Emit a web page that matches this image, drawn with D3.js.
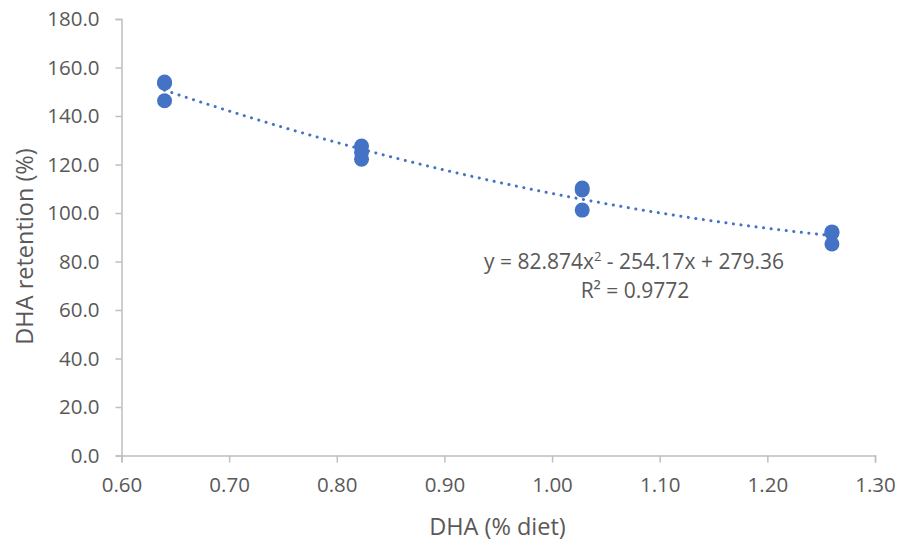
<!DOCTYPE html>
<html><head><meta charset="utf-8">
<script src="https://cdn.jsdelivr.net/npm/d3@7"></script>
<style>body{margin:0;background:#fff}svg{display:block}text{font-family:"Open Sans",sans-serif;fill:#595959}</style>
</head><body><svg id="c" width="900" height="542"></svg>
<script>
const xValues = [0.64,0.64,0.64, 0.823,0.823,0.823, 1.028,1.028,1.028, 1.26,1.26,1.26];
const yValues = [153.5,154.0,146.3, 127.6,125.1,122.2, 110.3,109.5,101.2, 92.2,91.8,87.2];
const xTicks = [0.6,0.7,0.8,0.9,1.0,1.1,1.2,1.3];
const yTicks = [0,20,40,60,80,100,120,140,160,180];
const trendCoef = [82.874,-254.17,279.36];
const rSquared = "0.9772";

const svg = d3.select("#c");
const x = d3.scaleLinear().domain([0.6,1.3]).range([121.5,875]);
const y = d3.scaleLinear().domain([0,180]).range([455.5,19]);

const gx = svg.append("g").attr("transform","translate(0,455.5)")
  .call(d3.axisBottom(x).tickValues(xTicks).tickFormat(d3.format(".2f")).tickSize(7).tickPadding(15));
const gy = svg.append("g").attr("transform","translate(121.5,0)")
  .call(d3.axisLeft(y).tickValues(yTicks).tickFormat(d3.format(".1f")).tickSize(6).tickPadding(16));
[gx,gy].forEach(g=>{
  g.select(".domain").attr("stroke","#bfbfbf").attr("stroke-width",1.5);
  g.selectAll(".tick line").attr("stroke","#bfbfbf").attr("stroke-width",1.5);
  g.selectAll(".tick text").attr("fill","#595959").style("font-size","20.5px").style("font-family","'Open Sans',sans-serif");
});

// trendline
const xs = d3.range(0.64,1.2601,0.005);
const line = d3.line().x(d=>x(d)).y(d=>y(trendCoef[0]*d*d+trendCoef[1]*d+trendCoef[2]));
svg.append("path").datum(xs).attr("d",line).attr("fill","none")
  .attr("stroke","#4472c4").attr("stroke-width",3).attr("stroke-dasharray","0.1 7.5").attr("stroke-linecap","round");

svg.append("g").selectAll("circle").data(xValues).join("circle")
  .attr("cx",(d)=>x(d)).attr("cy",(d,i)=>y(yValues[i])).attr("r",7.5).attr("fill","#4472c4");

// equation
const eq = svg.append("text").attr("x",634).attr("y",269).attr("text-anchor","middle").style("font-size","21px");
eq.append("tspan").text("y = "+trendCoef[0]+"x");
eq.append("tspan").attr("dy",-8).style("font-size","13px").text("2");
eq.append("tspan").attr("dy",8).text(" - "+Math.abs(trendCoef[1])+"x + "+trendCoef[2]);
svg.append("text").attr("x",635).attr("y",298).attr("text-anchor","middle").style("font-size","21px").text("R² = "+rSquared);

svg.append("text").attr("x",497.5).attr("y",535).attr("text-anchor","middle").style("font-size","23.5px").text("DHA (% diet)");
svg.append("text").attr("transform","translate(33,246.5) rotate(-90)").attr("text-anchor","middle").style("font-size","23.5px").text("DHA retention (%)");
</script></body></html>
